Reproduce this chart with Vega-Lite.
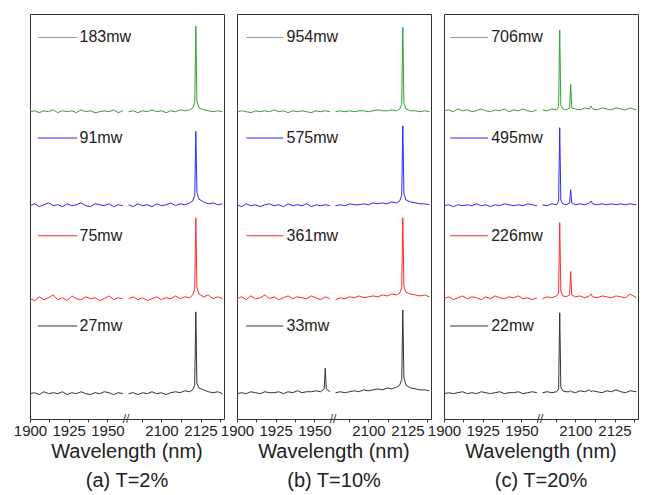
{
"$schema":"https://vega.github.io/schema/vega-lite/v6.json",
"padding":{"left":12,"top":13,"right":0,"bottom":0},
"autosize":{"type":"pad"},
"background":"white",
"spacing":13,
"bounds":"flush",
"config":{
 "font":"Liberation Sans",
 "view":{"stroke":"#333333","strokeWidth":1},
 "axis":{"grid":false,"domain":false,"tickSize":3,"tickColor":"#333333","labelFontSize":15,"labelColor":"#222222","labelPadding":1,"labelOverlap":false,"labelFlush":false,"labelFont":"Liberation Sans"},
 "title":{"fontSize":20,"fontWeight":"normal","color":"#222222","font":"Liberation Sans","anchor":"middle"}
},
"datasets":{
"aL":[
{"c":"k","w":1900,"y":0.01},{"c":"k","w":1903,"y":0.02},{"c":"k","w":1906,"y":0.00},{"c":"k","w":1909,"y":0.03},{"c":"k","w":1912,"y":0.01},{"c":"k","w":1915,"y":0.02},{"c":"k","w":1918,"y":0.01},{"c":"k","w":1921,"y":0.03},{"c":"k","w":1924,"y":0.00},{"c":"k","w":1927,"y":0.02},{"c":"k","w":1930,"y":0.01},{"c":"k","w":1933,"y":0.03},{"c":"k","w":1936,"y":0.01},{"c":"k","w":1939,"y":0.00},{"c":"k","w":1942,"y":0.02},{"c":"k","w":1945,"y":0.01},{"c":"k","w":1948,"y":0.03},{"c":"k","w":1951,"y":0.02},{"c":"k","w":1954,"y":0.00},{"c":"k","w":1957,"y":0.02},{"c":"k","w":1960,"y":0.01},
{"c":"r","w":1900,"y":1.02},{"c":"r","w":1903,"y":1.00},{"c":"r","w":1906,"y":1.04},{"c":"r","w":1909,"y":1.01},{"c":"r","w":1912,"y":1.03},{"c":"r","w":1915,"y":1.06},{"c":"r","w":1918,"y":1.01},{"c":"r","w":1921,"y":1.03},{"c":"r","w":1924,"y":1.00},{"c":"r","w":1927,"y":1.05},{"c":"r","w":1930,"y":1.02},{"c":"r","w":1933,"y":1.01},{"c":"r","w":1936,"y":1.04},{"c":"r","w":1939,"y":1.02},{"c":"r","w":1942,"y":1.03},{"c":"r","w":1945,"y":1.00},{"c":"r","w":1948,"y":1.02},{"c":"r","w":1951,"y":1.05},{"c":"r","w":1954,"y":1.01},{"c":"r","w":1957,"y":1.03},{"c":"r","w":1960,"y":1.02},
{"c":"b","w":1900,"y":2.01},{"c":"b","w":1903,"y":2.03},{"c":"b","w":1906,"y":2.00},{"c":"b","w":1909,"y":2.02},{"c":"b","w":1912,"y":2.04},{"c":"b","w":1915,"y":2.01},{"c":"b","w":1918,"y":2.02},{"c":"b","w":1921,"y":2.00},{"c":"b","w":1924,"y":2.03},{"c":"b","w":1927,"y":2.01},{"c":"b","w":1930,"y":2.02},{"c":"b","w":1933,"y":2.04},{"c":"b","w":1936,"y":2.01},{"c":"b","w":1939,"y":2.00},{"c":"b","w":1942,"y":2.03},{"c":"b","w":1945,"y":2.02},{"c":"b","w":1948,"y":2.01},{"c":"b","w":1951,"y":2.03},{"c":"b","w":1954,"y":2.00},{"c":"b","w":1957,"y":2.02},{"c":"b","w":1960,"y":2.01},
{"c":"g","w":1900,"y":3.01},{"c":"g","w":1903,"y":3.02},{"c":"g","w":1906,"y":3.00},{"c":"g","w":1909,"y":3.02},{"c":"g","w":1912,"y":3.01},{"c":"g","w":1915,"y":3.03},{"c":"g","w":1918,"y":3.00},{"c":"g","w":1921,"y":3.02},{"c":"g","w":1924,"y":3.01},{"c":"g","w":1927,"y":3.02},{"c":"g","w":1930,"y":3.00},{"c":"g","w":1933,"y":3.03},{"c":"g","w":1936,"y":3.01},{"c":"g","w":1939,"y":3.02},{"c":"g","w":1942,"y":3.00},{"c":"g","w":1945,"y":3.01},{"c":"g","w":1948,"y":3.02},{"c":"g","w":1951,"y":3.01},{"c":"g","w":1954,"y":3.03},{"c":"g","w":1957,"y":3.00},{"c":"g","w":1960,"y":3.02}
],
"aR":[
{"c":"k","w":2079,"y":0.01},{"c":"k","w":2082,"y":0.02},{"c":"k","w":2085,"y":0.00},{"c":"k","w":2088,"y":0.02},{"c":"k","w":2091,"y":0.01},{"c":"k","w":2094,"y":0.03},{"c":"k","w":2097,"y":0.01},{"c":"k","w":2100,"y":0.02},{"c":"k","w":2103,"y":0.00},{"c":"k","w":2106,"y":0.02},{"c":"k","w":2109,"y":0.03},{"c":"k","w":2112,"y":0.02},{"c":"k","w":2115,"y":0.04},{"c":"k","w":2118,"y":0.03},{"c":"k","w":2120,"y":0.05},{"c":"k","w":2121.3,"y":0.10},{"c":"k","w":2122,"y":0.88},{"c":"k","w":2122.7,"y":0.12},{"c":"k","w":2124,"y":0.07},{"c":"k","w":2127,"y":0.05},{"c":"k","w":2130,"y":0.03},{"c":"k","w":2133,"y":0.02},{"c":"k","w":2136,"y":0.03},{"c":"k","w":2139,"y":0.01},
{"c":"r","w":2079,"y":1.02},{"c":"r","w":2082,"y":1.04},{"c":"r","w":2085,"y":1.01},{"c":"r","w":2088,"y":1.03},{"c":"r","w":2091,"y":1.00},{"c":"r","w":2094,"y":1.02},{"c":"r","w":2097,"y":1.04},{"c":"r","w":2100,"y":1.01},{"c":"r","w":2103,"y":1.03},{"c":"r","w":2106,"y":1.02},{"c":"r","w":2109,"y":1.05},{"c":"r","w":2112,"y":1.02},{"c":"r","w":2115,"y":1.04},{"c":"r","w":2118,"y":1.03},{"c":"r","w":2120,"y":1.06},{"c":"r","w":2121.3,"y":1.12},{"c":"r","w":2122,"y":1.88},{"c":"r","w":2122.7,"y":1.14},{"c":"r","w":2124,"y":1.07},{"c":"r","w":2127,"y":1.04},{"c":"r","w":2130,"y":1.06},{"c":"r","w":2133,"y":1.02},{"c":"r","w":2136,"y":1.04},{"c":"r","w":2139,"y":1.02},
{"c":"b","w":2079,"y":2.02},{"c":"b","w":2082,"y":2.00},{"c":"b","w":2085,"y":2.03},{"c":"b","w":2088,"y":2.01},{"c":"b","w":2091,"y":2.02},{"c":"b","w":2094,"y":2.00},{"c":"b","w":2097,"y":2.03},{"c":"b","w":2100,"y":2.01},{"c":"b","w":2103,"y":2.02},{"c":"b","w":2106,"y":2.04},{"c":"b","w":2109,"y":2.01},{"c":"b","w":2112,"y":2.03},{"c":"b","w":2115,"y":2.02},{"c":"b","w":2118,"y":2.04},{"c":"b","w":2120,"y":2.06},{"c":"b","w":2121.3,"y":2.12},{"c":"b","w":2122,"y":2.80},{"c":"b","w":2122.7,"y":2.15},{"c":"b","w":2124,"y":2.08},{"c":"b","w":2127,"y":2.05},{"c":"b","w":2130,"y":2.03},{"c":"b","w":2133,"y":2.04},{"c":"b","w":2136,"y":2.02},{"c":"b","w":2139,"y":2.03},
{"c":"g","w":2079,"y":3.01},{"c":"g","w":2082,"y":3.02},{"c":"g","w":2085,"y":3.00},{"c":"g","w":2088,"y":3.02},{"c":"g","w":2091,"y":3.01},{"c":"g","w":2094,"y":3.03},{"c":"g","w":2097,"y":3.01},{"c":"g","w":2100,"y":3.02},{"c":"g","w":2103,"y":3.00},{"c":"g","w":2106,"y":3.02},{"c":"g","w":2109,"y":3.01},{"c":"g","w":2112,"y":3.03},{"c":"g","w":2115,"y":3.02},{"c":"g","w":2118,"y":3.03},{"c":"g","w":2120,"y":3.05},{"c":"g","w":2121.3,"y":3.10},{"c":"g","w":2122,"y":3.92},{"c":"g","w":2122.7,"y":3.12},{"c":"g","w":2124,"y":3.05},{"c":"g","w":2127,"y":3.03},{"c":"g","w":2130,"y":3.02},{"c":"g","w":2133,"y":3.01},{"c":"g","w":2136,"y":3.02},{"c":"g","w":2139,"y":3.01}
],
"bL":[
{"c":"k","w":1900,"y":0.01},{"c":"k","w":1903,"y":0.02},{"c":"k","w":1906,"y":0.01},{"c":"k","w":1909,"y":0.03},{"c":"k","w":1912,"y":0.02},{"c":"k","w":1915,"y":0.01},{"c":"k","w":1918,"y":0.03},{"c":"k","w":1921,"y":0.02},{"c":"k","w":1924,"y":0.02},{"c":"k","w":1927,"y":0.03},{"c":"k","w":1930,"y":0.01},{"c":"k","w":1933,"y":0.03},{"c":"k","w":1936,"y":0.02},{"c":"k","w":1939,"y":0.04},{"c":"k","w":1942,"y":0.02},{"c":"k","w":1945,"y":0.03},{"c":"k","w":1948,"y":0.03},{"c":"k","w":1951,"y":0.04},{"c":"k","w":1954,"y":0.03},{"c":"k","w":1956.3,"y":0.06},{"c":"k","w":1957,"y":0.28},{"c":"k","w":1957.7,"y":0.06},{"c":"k","w":1960,"y":0.03},
{"c":"r","w":1900,"y":1.02},{"c":"r","w":1903,"y":1.04},{"c":"r","w":1906,"y":1.01},{"c":"r","w":1909,"y":1.05},{"c":"r","w":1912,"y":1.02},{"c":"r","w":1915,"y":1.03},{"c":"r","w":1918,"y":1.06},{"c":"r","w":1921,"y":1.02},{"c":"r","w":1924,"y":1.04},{"c":"r","w":1927,"y":1.01},{"c":"r","w":1930,"y":1.03},{"c":"r","w":1933,"y":1.05},{"c":"r","w":1936,"y":1.02},{"c":"r","w":1939,"y":1.04},{"c":"r","w":1942,"y":1.03},{"c":"r","w":1945,"y":1.02},{"c":"r","w":1948,"y":1.05},{"c":"r","w":1951,"y":1.03},{"c":"r","w":1954,"y":1.01},{"c":"r","w":1957,"y":1.04},{"c":"r","w":1960,"y":1.02},
{"c":"b","w":1900,"y":2.02},{"c":"b","w":1903,"y":2.00},{"c":"b","w":1906,"y":2.03},{"c":"b","w":1909,"y":2.01},{"c":"b","w":1912,"y":2.02},{"c":"b","w":1915,"y":2.00},{"c":"b","w":1918,"y":2.02},{"c":"b","w":1921,"y":2.03},{"c":"b","w":1924,"y":2.01},{"c":"b","w":1927,"y":2.02},{"c":"b","w":1930,"y":2.00},{"c":"b","w":1933,"y":2.03},{"c":"b","w":1936,"y":2.01},{"c":"b","w":1939,"y":2.02},{"c":"b","w":1942,"y":2.01},{"c":"b","w":1945,"y":2.03},{"c":"b","w":1948,"y":2.00},{"c":"b","w":1951,"y":2.02},{"c":"b","w":1954,"y":2.01},{"c":"b","w":1957,"y":2.02},{"c":"b","w":1960,"y":2.01},
{"c":"g","w":1900,"y":3.01},{"c":"g","w":1903,"y":3.02},{"c":"g","w":1906,"y":3.01},{"c":"g","w":1909,"y":3.00},{"c":"g","w":1912,"y":3.02},{"c":"g","w":1915,"y":3.01},{"c":"g","w":1918,"y":3.02},{"c":"g","w":1921,"y":3.01},{"c":"g","w":1924,"y":3.03},{"c":"g","w":1927,"y":3.01},{"c":"g","w":1930,"y":3.02},{"c":"g","w":1933,"y":3.00},{"c":"g","w":1936,"y":3.02},{"c":"g","w":1939,"y":3.01},{"c":"g","w":1942,"y":3.02},{"c":"g","w":1945,"y":3.01},{"c":"g","w":1948,"y":3.00},{"c":"g","w":1951,"y":3.02},{"c":"g","w":1954,"y":3.01},{"c":"g","w":1957,"y":3.02},{"c":"g","w":1960,"y":3.01}
],
"bR":[
{"c":"k","w":2079,"y":0.02},{"c":"k","w":2082,"y":0.03},{"c":"k","w":2085,"y":0.02},{"c":"k","w":2088,"y":0.03},{"c":"k","w":2091,"y":0.04},{"c":"k","w":2094,"y":0.03},{"c":"k","w":2097,"y":0.05},{"c":"k","w":2100,"y":0.04},{"c":"k","w":2103,"y":0.05},{"c":"k","w":2106,"y":0.06},{"c":"k","w":2109,"y":0.05},{"c":"k","w":2112,"y":0.07},{"c":"k","w":2115,"y":0.06},{"c":"k","w":2118,"y":0.08},{"c":"k","w":2120,"y":0.10},{"c":"k","w":2121.3,"y":0.16},{"c":"k","w":2122,"y":0.90},{"c":"k","w":2122.7,"y":0.18},{"c":"k","w":2124,"y":0.10},{"c":"k","w":2127,"y":0.07},{"c":"k","w":2130,"y":0.06},{"c":"k","w":2133,"y":0.05},{"c":"k","w":2136,"y":0.05},{"c":"k","w":2139,"y":0.04},
{"c":"r","w":2079,"y":1.01},{"c":"r","w":2082,"y":1.03},{"c":"r","w":2085,"y":1.02},{"c":"r","w":2088,"y":1.04},{"c":"r","w":2091,"y":1.03},{"c":"r","w":2094,"y":1.05},{"c":"r","w":2097,"y":1.03},{"c":"r","w":2100,"y":1.04},{"c":"r","w":2103,"y":1.05},{"c":"r","w":2106,"y":1.04},{"c":"r","w":2109,"y":1.06},{"c":"r","w":2112,"y":1.05},{"c":"r","w":2115,"y":1.07},{"c":"r","w":2118,"y":1.06},{"c":"r","w":2120,"y":1.08},{"c":"r","w":2121.3,"y":1.14},{"c":"r","w":2122,"y":1.88},{"c":"r","w":2122.7,"y":1.15},{"c":"r","w":2124,"y":1.09},{"c":"r","w":2127,"y":1.07},{"c":"r","w":2130,"y":1.06},{"c":"r","w":2133,"y":1.05},{"c":"r","w":2136,"y":1.06},{"c":"r","w":2139,"y":1.04},
{"c":"b","w":2079,"y":2.01},{"c":"b","w":2082,"y":2.02},{"c":"b","w":2085,"y":2.01},{"c":"b","w":2088,"y":2.03},{"c":"b","w":2091,"y":2.02},{"c":"b","w":2094,"y":2.02},{"c":"b","w":2097,"y":2.03},{"c":"b","w":2100,"y":2.02},{"c":"b","w":2103,"y":2.04},{"c":"b","w":2106,"y":2.03},{"c":"b","w":2109,"y":2.04},{"c":"b","w":2112,"y":2.03},{"c":"b","w":2115,"y":2.05},{"c":"b","w":2118,"y":2.04},{"c":"b","w":2120,"y":2.06},{"c":"b","w":2121.3,"y":2.12},{"c":"b","w":2122,"y":2.86},{"c":"b","w":2122.7,"y":2.14},{"c":"b","w":2124,"y":2.07},{"c":"b","w":2127,"y":2.05},{"c":"b","w":2130,"y":2.04},{"c":"b","w":2133,"y":2.03},{"c":"b","w":2136,"y":2.03},{"c":"b","w":2139,"y":2.02},
{"c":"g","w":2079,"y":3.01},{"c":"g","w":2082,"y":3.02},{"c":"g","w":2085,"y":3.01},{"c":"g","w":2088,"y":3.02},{"c":"g","w":2091,"y":3.01},{"c":"g","w":2094,"y":3.02},{"c":"g","w":2097,"y":3.02},{"c":"g","w":2100,"y":3.01},{"c":"g","w":2103,"y":3.02},{"c":"g","w":2106,"y":3.03},{"c":"g","w":2109,"y":3.02},{"c":"g","w":2112,"y":3.02},{"c":"g","w":2115,"y":3.03},{"c":"g","w":2118,"y":3.02},{"c":"g","w":2120,"y":3.04},{"c":"g","w":2121.3,"y":3.09},{"c":"g","w":2122,"y":3.91},{"c":"g","w":2122.7,"y":3.10},{"c":"g","w":2124,"y":3.04},{"c":"g","w":2127,"y":3.02},{"c":"g","w":2130,"y":3.02},{"c":"g","w":2133,"y":3.01},{"c":"g","w":2136,"y":3.02},{"c":"g","w":2139,"y":3.01}
],
"cL":[
{"c":"k","w":1900,"y":0.01},{"c":"k","w":1903,"y":0.02},{"c":"k","w":1906,"y":0.01},{"c":"k","w":1909,"y":0.02},{"c":"k","w":1912,"y":0.03},{"c":"k","w":1915,"y":0.01},{"c":"k","w":1918,"y":0.02},{"c":"k","w":1921,"y":0.01},{"c":"k","w":1924,"y":0.03},{"c":"k","w":1927,"y":0.02},{"c":"k","w":1930,"y":0.01},{"c":"k","w":1933,"y":0.02},{"c":"k","w":1936,"y":0.03},{"c":"k","w":1939,"y":0.01},{"c":"k","w":1942,"y":0.02},{"c":"k","w":1945,"y":0.02},{"c":"k","w":1948,"y":0.03},{"c":"k","w":1951,"y":0.01},{"c":"k","w":1954,"y":0.02},{"c":"k","w":1957,"y":0.03},{"c":"k","w":1960,"y":0.02},
{"c":"r","w":1900,"y":1.02},{"c":"r","w":1903,"y":1.04},{"c":"r","w":1906,"y":1.01},{"c":"r","w":1909,"y":1.03},{"c":"r","w":1912,"y":1.05},{"c":"r","w":1915,"y":1.02},{"c":"r","w":1918,"y":1.04},{"c":"r","w":1921,"y":1.03},{"c":"r","w":1924,"y":1.01},{"c":"r","w":1927,"y":1.04},{"c":"r","w":1930,"y":1.02},{"c":"r","w":1933,"y":1.05},{"c":"r","w":1936,"y":1.03},{"c":"r","w":1939,"y":1.02},{"c":"r","w":1942,"y":1.04},{"c":"r","w":1945,"y":1.03},{"c":"r","w":1948,"y":1.05},{"c":"r","w":1951,"y":1.02},{"c":"r","w":1954,"y":1.03},{"c":"r","w":1957,"y":1.01},{"c":"r","w":1960,"y":1.03},
{"c":"b","w":1900,"y":2.01},{"c":"b","w":1903,"y":2.02},{"c":"b","w":1906,"y":2.00},{"c":"b","w":1909,"y":2.02},{"c":"b","w":1912,"y":2.01},{"c":"b","w":1915,"y":2.02},{"c":"b","w":1918,"y":2.01},{"c":"b","w":1921,"y":2.03},{"c":"b","w":1924,"y":2.01},{"c":"b","w":1927,"y":2.02},{"c":"b","w":1930,"y":2.00},{"c":"b","w":1933,"y":2.02},{"c":"b","w":1936,"y":2.01},{"c":"b","w":1939,"y":2.03},{"c":"b","w":1942,"y":2.02},{"c":"b","w":1945,"y":2.01},{"c":"b","w":1948,"y":2.02},{"c":"b","w":1951,"y":2.01},{"c":"b","w":1954,"y":2.03},{"c":"b","w":1957,"y":2.02},{"c":"b","w":1960,"y":2.01},
{"c":"g","w":1900,"y":3.02},{"c":"g","w":1903,"y":3.03},{"c":"g","w":1906,"y":3.01},{"c":"g","w":1909,"y":3.04},{"c":"g","w":1912,"y":3.02},{"c":"g","w":1915,"y":3.03},{"c":"g","w":1918,"y":3.01},{"c":"g","w":1921,"y":3.02},{"c":"g","w":1924,"y":3.04},{"c":"g","w":1927,"y":3.02},{"c":"g","w":1930,"y":3.01},{"c":"g","w":1933,"y":3.03},{"c":"g","w":1936,"y":3.02},{"c":"g","w":1939,"y":3.04},{"c":"g","w":1942,"y":3.01},{"c":"g","w":1945,"y":3.03},{"c":"g","w":1948,"y":3.02},{"c":"g","w":1951,"y":3.04},{"c":"g","w":1954,"y":3.02},{"c":"g","w":1957,"y":3.01},{"c":"g","w":1960,"y":3.03}
],
"cR":[
{"c":"k","w":2079,"y":0.02},{"c":"k","w":2082,"y":0.03},{"c":"k","w":2085,"y":0.02},{"c":"k","w":2088,"y":0.03},{"c":"k","w":2089.3,"y":0.06},{"c":"k","w":2090,"y":0.87},{"c":"k","w":2090.7,"y":0.08},{"c":"k","w":2092,"y":0.04},{"c":"k","w":2094,"y":0.03},{"c":"k","w":2096.3,"y":0.03},{"c":"k","w":2097,"y":0.04},{"c":"k","w":2097.7,"y":0.03},{"c":"k","w":2100,"y":0.02},{"c":"k","w":2103,"y":0.04},{"c":"k","w":2106,"y":0.03},{"c":"k","w":2109,"y":0.05},{"c":"k","w":2110,"y":0.03},{"c":"k","w":2111,"y":0.04},{"c":"k","w":2114,"y":0.03},{"c":"k","w":2117,"y":0.02},{"c":"k","w":2120,"y":0.04},{"c":"k","w":2123,"y":0.03},{"c":"k","w":2126,"y":0.05},{"c":"k","w":2129,"y":0.03},{"c":"k","w":2132,"y":0.02},{"c":"k","w":2135,"y":0.04},{"c":"k","w":2139,"y":0.03},
{"c":"r","w":2079,"y":1.02},{"c":"r","w":2082,"y":1.04},{"c":"r","w":2085,"y":1.03},{"c":"r","w":2088,"y":1.05},{"c":"r","w":2089.3,"y":1.08},{"c":"r","w":2090,"y":1.83},{"c":"r","w":2090.7,"y":1.10},{"c":"r","w":2092,"y":1.05},{"c":"r","w":2094,"y":1.04},{"c":"r","w":2096.3,"y":1.06},{"c":"r","w":2097,"y":1.31},{"c":"r","w":2097.7,"y":1.06},{"c":"r","w":2100,"y":1.04},{"c":"r","w":2103,"y":1.05},{"c":"r","w":2106,"y":1.03},{"c":"r","w":2109,"y":1.05},{"c":"r","w":2110,"y":1.07},{"c":"r","w":2111,"y":1.04},{"c":"r","w":2114,"y":1.03},{"c":"r","w":2117,"y":1.05},{"c":"r","w":2120,"y":1.04},{"c":"r","w":2123,"y":1.03},{"c":"r","w":2126,"y":1.05},{"c":"r","w":2129,"y":1.04},{"c":"r","w":2132,"y":1.03},{"c":"r","w":2135,"y":1.07},{"c":"r","w":2139,"y":1.03},
{"c":"b","w":2079,"y":2.02},{"c":"b","w":2082,"y":2.01},{"c":"b","w":2085,"y":2.03},{"c":"b","w":2088,"y":2.02},{"c":"b","w":2089.3,"y":2.06},{"c":"b","w":2090,"y":2.84},{"c":"b","w":2090.7,"y":2.07},{"c":"b","w":2092,"y":2.03},{"c":"b","w":2094,"y":2.02},{"c":"b","w":2096.3,"y":2.04},{"c":"b","w":2097,"y":2.18},{"c":"b","w":2097.7,"y":2.04},{"c":"b","w":2100,"y":2.02},{"c":"b","w":2103,"y":2.03},{"c":"b","w":2106,"y":2.02},{"c":"b","w":2109,"y":2.04},{"c":"b","w":2110,"y":2.06},{"c":"b","w":2111,"y":2.03},{"c":"b","w":2114,"y":2.02},{"c":"b","w":2117,"y":2.03},{"c":"b","w":2120,"y":2.02},{"c":"b","w":2123,"y":2.03},{"c":"b","w":2126,"y":2.02},{"c":"b","w":2129,"y":2.03},{"c":"b","w":2132,"y":2.02},{"c":"b","w":2135,"y":2.03},{"c":"b","w":2139,"y":2.02},
{"c":"g","w":2079,"y":3.03},{"c":"g","w":2082,"y":3.02},{"c":"g","w":2085,"y":3.04},{"c":"g","w":2088,"y":3.03},{"c":"g","w":2089.3,"y":3.07},{"c":"g","w":2090,"y":3.88},{"c":"g","w":2090.7,"y":3.08},{"c":"g","w":2092,"y":3.04},{"c":"g","w":2094,"y":3.03},{"c":"g","w":2096.3,"y":3.05},{"c":"g","w":2097,"y":3.30},{"c":"g","w":2097.7,"y":3.05},{"c":"g","w":2100,"y":3.04},{"c":"g","w":2103,"y":3.03},{"c":"g","w":2106,"y":3.05},{"c":"g","w":2109,"y":3.04},{"c":"g","w":2110,"y":3.07},{"c":"g","w":2111,"y":3.04},{"c":"g","w":2114,"y":3.03},{"c":"g","w":2117,"y":3.05},{"c":"g","w":2120,"y":3.04},{"c":"g","w":2123,"y":3.03},{"c":"g","w":2126,"y":3.05},{"c":"g","w":2129,"y":3.04},{"c":"g","w":2132,"y":3.03},{"c":"g","w":2135,"y":3.05},{"c":"g","w":2139,"y":3.03}
],
"labA":[{"c":"gray","t":"183mw","y":3.8},{"c":"b","t":"91mw","y":2.73},{"c":"r","t":"75mw","y":1.69},{"c":"k","t":"27mw","y":0.73}],
"labB":[{"c":"gray","t":"954mw","y":3.8},{"c":"b","t":"575mw","y":2.73},{"c":"r","t":"361mw","y":1.69},{"c":"k","t":"33mw","y":0.73}],
"labC":[{"c":"gray","t":"706mw","y":3.8},{"c":"b","t":"495mw","y":2.73},{"c":"r","t":"226mw","y":1.69},{"c":"k","t":"22mw","y":0.73}]
},
"hconcat":[
{"width":194,"height":405,
 "title":{"text":["Wavelength (nm)","(a) T=2%"],"orient":"bottom","lineHeight":29,"offset":4,"anchor":"middle"},
 "layer":[
  {"layer":[
   {"data":{"name":"aL"},"mark":{"type":"line","strokeWidth":1},
    "encoding":{"x":{"field":"w","type":"quantitative","scale":{"domain":[1900,1962],"range":[0,96],"nice":false,"zero":false},"axis":{"values":[1900,1912.5,1925,1937.5,1950],"format":"d","labelExpr":"datum.value % 25 == 0 ? datum.label : ''","title":null,"orient":"bottom"}},
     "y":{"field":"y","type":"quantitative","scale":{"domain":[-0.26,4.05],"nice":false,"zero":false},"axis":null},
     "color":{"field":"c","type":"nominal","scale":{"domain":["k","r","b","g","gray"],"range":["#333333","#ff2a2a","#2a2aff","#33a033","#999999"]},"legend":null}}},
   {"data":{"name":"labA"},"mark":{"type":"rule","strokeWidth":1},
    "encoding":{"x":{"datum":1905,"type":"quantitative"},"x2":{"datum":1930.5},"y":{"field":"y","type":"quantitative"},
     "color":{"field":"c","type":"nominal","scale":{"domain":["k","r","b","g","gray"],"range":["#333333","#ff2a2a","#2a2aff","#33a033","#999999"]},"legend":null}}},
   {"data":{"name":"labA"},"mark":{"type":"text","align":"left","baseline":"middle","fontSize":16,"color":"#222222"},
    "encoding":{"x":{"datum":1932,"type":"quantitative"},"y":{"field":"y","type":"quantitative"},"text":{"field":"t"}}},
   {"data":{"values":[{}]},"mark":{"type":"text","text":"//","fontSize":12,"align":"center","baseline":"middle","color":"#333333"},
    "encoding":{"x":{"datum":1962,"type":"quantitative"},"y":{"datum":-0.26,"type":"quantitative"}}}
  ]},
  {"data":{"name":"aR"},"mark":{"type":"line","strokeWidth":1},
   "encoding":{"x":{"field":"w","type":"quantitative","scale":{"domain":[2077.4,2140],"range":[96,194],"nice":false,"zero":false},"axis":{"values":[2087.5,2100,2112.5,2125,2137.5],"format":"d","labelExpr":"datum.value % 25 == 0 ? datum.label : ''","title":null,"orient":"bottom"}},
    "y":{"field":"y","type":"quantitative"},
    "color":{"field":"c","type":"nominal","scale":{"domain":["k","r","b","g","gray"],"range":["#333333","#ff2a2a","#2a2aff","#33a033","#999999"]},"legend":null}}}
 ],
 "resolve":{"scale":{"x":"independent"},"axis":{"x":"independent"}}
},
{"width":194,"height":405,
 "title":{"text":["Wavelength (nm)","(b) T=10%"],"orient":"bottom","lineHeight":29,"offset":4,"anchor":"middle"},
 "layer":[
  {"layer":[
   {"data":{"name":"bL"},"mark":{"type":"line","strokeWidth":1},
    "encoding":{"x":{"field":"w","type":"quantitative","scale":{"domain":[1900,1962],"range":[0,96],"nice":false,"zero":false},"axis":{"values":[1900,1912.5,1925,1937.5,1950],"format":"d","labelExpr":"datum.value % 25 == 0 ? datum.label : ''","title":null,"orient":"bottom"}},
     "y":{"field":"y","type":"quantitative","scale":{"domain":[-0.26,4.05],"nice":false,"zero":false},"axis":null},
     "color":{"field":"c","type":"nominal","scale":{"domain":["k","r","b","g","gray"],"range":["#333333","#ff2a2a","#2a2aff","#33a033","#999999"]},"legend":null}}},
   {"data":{"name":"labB"},"mark":{"type":"rule","strokeWidth":1},
    "encoding":{"x":{"datum":1906,"type":"quantitative"},"x2":{"datum":1930},"y":{"field":"y","type":"quantitative"},
     "color":{"field":"c","type":"nominal","scale":{"domain":["k","r","b","g","gray"],"range":["#333333","#ff2a2a","#2a2aff","#33a033","#999999"]},"legend":null}}},
   {"data":{"name":"labB"},"mark":{"type":"text","align":"left","baseline":"middle","fontSize":16,"color":"#222222"},
    "encoding":{"x":{"datum":1932,"type":"quantitative"},"y":{"field":"y","type":"quantitative"},"text":{"field":"t"}}},
   {"data":{"values":[{}]},"mark":{"type":"text","text":"//","fontSize":12,"align":"center","baseline":"middle","color":"#333333"},
    "encoding":{"x":{"datum":1962,"type":"quantitative"},"y":{"datum":-0.26,"type":"quantitative"}}}
  ]},
  {"data":{"name":"bR"},"mark":{"type":"line","strokeWidth":1},
   "encoding":{"x":{"field":"w","type":"quantitative","scale":{"domain":[2077.4,2140],"range":[96,194],"nice":false,"zero":false},"axis":{"values":[2087.5,2100,2112.5,2125,2137.5],"format":"d","labelExpr":"datum.value % 25 == 0 ? datum.label : ''","title":null,"orient":"bottom"}},
    "y":{"field":"y","type":"quantitative"},
    "color":{"field":"c","type":"nominal","scale":{"domain":["k","r","b","g","gray"],"range":["#333333","#ff2a2a","#2a2aff","#33a033","#999999"]},"legend":null}}}
 ],
 "resolve":{"scale":{"x":"independent"},"axis":{"x":"independent"}}
},
{"width":194,"height":405,
 "title":{"text":["Wavelength (nm)","(c) T=20%"],"orient":"bottom","lineHeight":29,"offset":4,"anchor":"middle"},
 "layer":[
  {"layer":[
   {"data":{"name":"cL"},"mark":{"type":"line","strokeWidth":1},
    "encoding":{"x":{"field":"w","type":"quantitative","scale":{"domain":[1900,1962],"range":[0,96],"nice":false,"zero":false},"axis":{"values":[1900,1912.5,1925,1937.5,1950],"format":"d","labelExpr":"datum.value % 25 == 0 ? datum.label : ''","title":null,"orient":"bottom"}},
     "y":{"field":"y","type":"quantitative","scale":{"domain":[-0.26,4.05],"nice":false,"zero":false},"axis":null},
     "color":{"field":"c","type":"nominal","scale":{"domain":["k","r","b","g","gray"],"range":["#333333","#ff2a2a","#2a2aff","#33a033","#999999"]},"legend":null}}},
   {"data":{"name":"labC"},"mark":{"type":"rule","strokeWidth":1},
    "encoding":{"x":{"datum":1904,"type":"quantitative"},"x2":{"datum":1928.5},"y":{"field":"y","type":"quantitative"},
     "color":{"field":"c","type":"nominal","scale":{"domain":["k","r","b","g","gray"],"range":["#333333","#ff2a2a","#2a2aff","#33a033","#999999"]},"legend":null}}},
   {"data":{"name":"labC"},"mark":{"type":"text","align":"left","baseline":"middle","fontSize":16,"color":"#222222"},
    "encoding":{"x":{"datum":1930.5,"type":"quantitative"},"y":{"field":"y","type":"quantitative"},"text":{"field":"t"}}},
   {"data":{"values":[{}]},"mark":{"type":"text","text":"//","fontSize":12,"align":"center","baseline":"middle","color":"#333333"},
    "encoding":{"x":{"datum":1962,"type":"quantitative"},"y":{"datum":-0.26,"type":"quantitative"}}}
  ]},
  {"data":{"name":"cR"},"mark":{"type":"line","strokeWidth":1},
   "encoding":{"x":{"field":"w","type":"quantitative","scale":{"domain":[2077.4,2140],"range":[96,194],"nice":false,"zero":false},"axis":{"values":[2087.5,2100,2112.5,2125,2137.5],"format":"d","labelExpr":"datum.value % 25 == 0 ? datum.label : ''","title":null,"orient":"bottom"}},
    "y":{"field":"y","type":"quantitative"},
    "color":{"field":"c","type":"nominal","scale":{"domain":["k","r","b","g","gray"],"range":["#333333","#ff2a2a","#2a2aff","#33a033","#999999"]},"legend":null}}}
 ],
 "resolve":{"scale":{"x":"independent"},"axis":{"x":"independent"}}
}
]
}
